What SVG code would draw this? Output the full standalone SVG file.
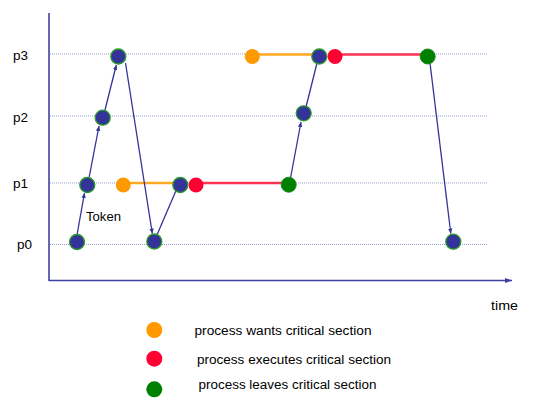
<svg xmlns="http://www.w3.org/2000/svg" width="549" height="405" viewBox="0 0 549 405">
<style>
.grid{stroke:#9a9ad0;stroke-width:1.2;stroke-dasharray:1 1;fill:none}
.axis{stroke:#3f3fa0;stroke-width:1.6;fill:none}
.ln{stroke:#333399;stroke-width:1.3;fill:none}
.arr{stroke:#333399;stroke-width:1.3;fill:none;marker-end:url(#ah)}
.tok{fill:#333399;stroke:#2a9a2a;stroke-width:1.3}
.want{fill:#ff9900}
.exec{fill:#ff0033}
.leave{fill:#008000;stroke:#1a8a1a;stroke-width:1}
.lw{stroke:#ffaa22;stroke-width:2.6}
.le{stroke:#ff3355;stroke-width:2.6}
text{font-family:"Liberation Sans",Arial,sans-serif;font-size:12.5px;fill:#000}
</style>
<defs>
<marker id="ah" markerWidth="6" markerHeight="6" refX="5" refY="3" orient="auto" markerUnits="userSpaceOnUse">
<path d="M0,0.8 L5,3 L0,5.2 z" fill="#333399"/>
</marker>
<marker id="ax" markerWidth="8" markerHeight="8" refX="7" refY="4" orient="auto" markerUnits="userSpaceOnUse">
<path d="M0,1.5 L7,4 L0,6.5 z" fill="#3f3fa0"/>
</marker>
</defs>
<g id="axes">
<line class="axis" x1="49" y1="13" x2="49" y2="281"/>
<line class="axis" x1="49" y1="280.5" x2="512" y2="280.5" marker-end="url(#ax)"/>
<text x="491" y="310" textLength="27" lengthAdjust="spacingAndGlyphs">time</text>
</g>
<g id="grid">
<line class="grid" x1="50" y1="54" x2="487" y2="54"/>
<line class="grid" x1="50" y1="116" x2="487" y2="116"/>
<line class="grid" x1="50" y1="183" x2="487" y2="183"/>
<line class="grid" x1="50" y1="244.5" x2="487" y2="244.5"/>
<text x="13" y="60" textLength="15" lengthAdjust="spacingAndGlyphs">p3</text>
<text x="13" y="122" textLength="15" lengthAdjust="spacingAndGlyphs">p2</text>
<text x="13" y="188" textLength="15" lengthAdjust="spacingAndGlyphs">p1</text>
<text x="17" y="249" textLength="15" lengthAdjust="spacingAndGlyphs">p0</text>
</g>
<g id="connectors">
<line class="lw" x1="123" y1="183" x2="180" y2="183"/>
<line class="le" x1="196" y1="183" x2="289" y2="183"/>
<line class="lw" x1="252" y1="54.5" x2="319" y2="54.5"/>
<line class="le" x1="335" y1="54.5" x2="428" y2="54.5"/>
<line class="arr" x1="77" y1="235" x2="84.5" y2="193"/>
<line class="arr" x1="89" y1="178" x2="99" y2="126"/>
<line class="arr" x1="105" y1="110" x2="116.3" y2="65"/>
<line class="arr" x1="125.5" y1="63" x2="152.3" y2="233.5"/>
<line class="ln" x1="156.5" y1="236" x2="178" y2="186"/>
<line class="arr" x1="290.5" y1="178" x2="301" y2="122"/>
<line class="ln" x1="306" y1="107" x2="318.5" y2="57"/>
<line class="arr" x1="430" y1="63" x2="450.8" y2="233.5"/>
<text x="86" y="221" textLength="35" lengthAdjust="spacingAndGlyphs">Token</text>
</g>
<g id="nodes">
<circle id="n1" class="tok" cx="77" cy="242" r="7.5"/>
<circle id="n2" class="tok" cx="87.3" cy="185" r="7.5"/>
<circle id="n3" class="tok" cx="102.7" cy="117.7" r="7.5"/>
<circle id="n4" class="tok" cx="118.3" cy="56.5" r="7.5"/>
<circle id="n5" class="tok" cx="154.3" cy="241.5" r="7.5"/>
<circle id="n6" class="want" cx="123.3" cy="185" r="7.5"/>
<circle id="n7" class="tok" cx="180.3" cy="185" r="7.5"/>
<circle id="n8" class="exec" cx="196" cy="185" r="7.5"/>
<circle id="n9" class="leave" cx="288.7" cy="184.7" r="7.5"/>
<circle id="n10" class="tok" cx="303.7" cy="113.3" r="7.5"/>
<circle id="n11" class="want" cx="252.3" cy="56.5" r="7.5"/>
<circle id="n12" class="tok" cx="319.3" cy="56.5" r="7.5"/>
<circle id="n13" class="exec" cx="335" cy="56.5" r="7.5"/>
<circle id="n14" class="leave" cx="427.7" cy="56.5" r="7.5"/>
<circle id="n15" class="tok" cx="453.3" cy="241.7" r="7.5"/>
</g>
<g id="legend">
<circle class="want" cx="154.3" cy="330" r="8"/>
<circle class="exec" cx="154.3" cy="358.7" r="8"/>
<circle fill="#008000" cx="154.3" cy="389.3" r="8"/>
<text x="194.5" y="335" textLength="177" lengthAdjust="spacingAndGlyphs">process wants critical section</text>
<text x="197" y="363.5" textLength="194" lengthAdjust="spacingAndGlyphs">process executes critical section</text>
<text x="198.5" y="389" textLength="178" lengthAdjust="spacingAndGlyphs">process leaves critical section</text>
</g>
</svg>
